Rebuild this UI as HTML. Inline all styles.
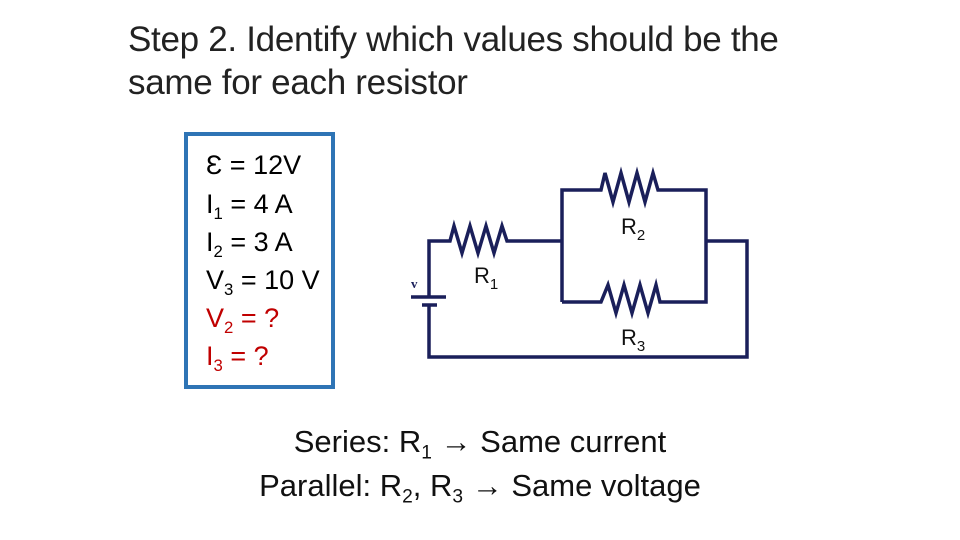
<!DOCTYPE html>
<html><head><meta charset="utf-8"><style>
body{margin:0;width:960px;height:540px;background:#fff;position:relative;overflow:hidden;font-family:"Liberation Sans",sans-serif;}
.t{position:absolute;left:128px;top:18px;font-size:35px;line-height:43px;color:#222;letter-spacing:-0.3px;}
.box{position:absolute;left:184px;top:132px;width:143px;height:249px;border:4px solid #2e74b5;}
.v{position:absolute;left:206px;font-size:27px;line-height:30px;white-space:nowrap;}
sub{font-size:62%;vertical-align:-0.35em;line-height:0}
.b{position:absolute;left:0;width:960px;text-align:center;font-size:31px;color:#111;}
</style></head><body>
<div class="t">Step 2. Identify which values should be the<br>same for each resistor</div>
<div class="box"></div>
<div class="v" style="top:150px">Ɛ = 12V</div>
<div class="v" style="top:189px">I<sub>1</sub> = 4 A</div>
<div class="v" style="top:227px">I<sub>2</sub> = 3 A</div>
<div class="v" style="top:265px">V<sub>3</sub> = 10 V</div>
<div class="v" style="top:303px;color:#c00000">V<sub>2</sub> = ?</div>
<div class="v" style="top:341px;color:#c00000">I<sub>3</sub> = ?</div>
<svg width="960" height="540" style="position:absolute;left:0;top:0" fill="none" stroke="#1a1f5a" stroke-width="3.5" stroke-linejoin="miter">
<polyline points="429,296 429,241 450,241 454,226 462,253 470,226 478,253 486,226 494,253 502,226 507,241 562,241"/>
<polyline points="562,302 562,190 601,190 605,173 613,202 621,173 629,202 637,173 645,202 653,173 658,190 706,190 706,302 660,302 656,285 648,313 640,285 632,313 624,285 616,313 608,285 601,302 562,302"/>
<polyline points="706,241 747,241 747,357 429,357 429,305"/>
<line x1="411" y1="297" x2="446" y2="297"/>
<line x1="422" y1="305" x2="437" y2="305"/>
<text x="411" y="288" font-family="Liberation Serif" font-weight="bold" font-size="13" fill="#1a1f5a" stroke="none">v</text>
<g fill="#111" stroke="none" font-family="Liberation Sans" font-size="22">
<text x="621" y="234">R<tspan font-size="15" dy="6">2</tspan></text>
<text x="474" y="283">R<tspan font-size="15" dy="6">1</tspan></text>
<text x="621" y="345">R<tspan font-size="15" dy="6">3</tspan></text>
</g>
</svg>
<div class="b" style="top:424px">Series: R<sub>1</sub> <b>→</b> Same current</div>
<div class="b" style="top:468px">Parallel: R<sub>2</sub>, R<sub>3</sub> <b>→</b> Same voltage</div>
</body></html>
